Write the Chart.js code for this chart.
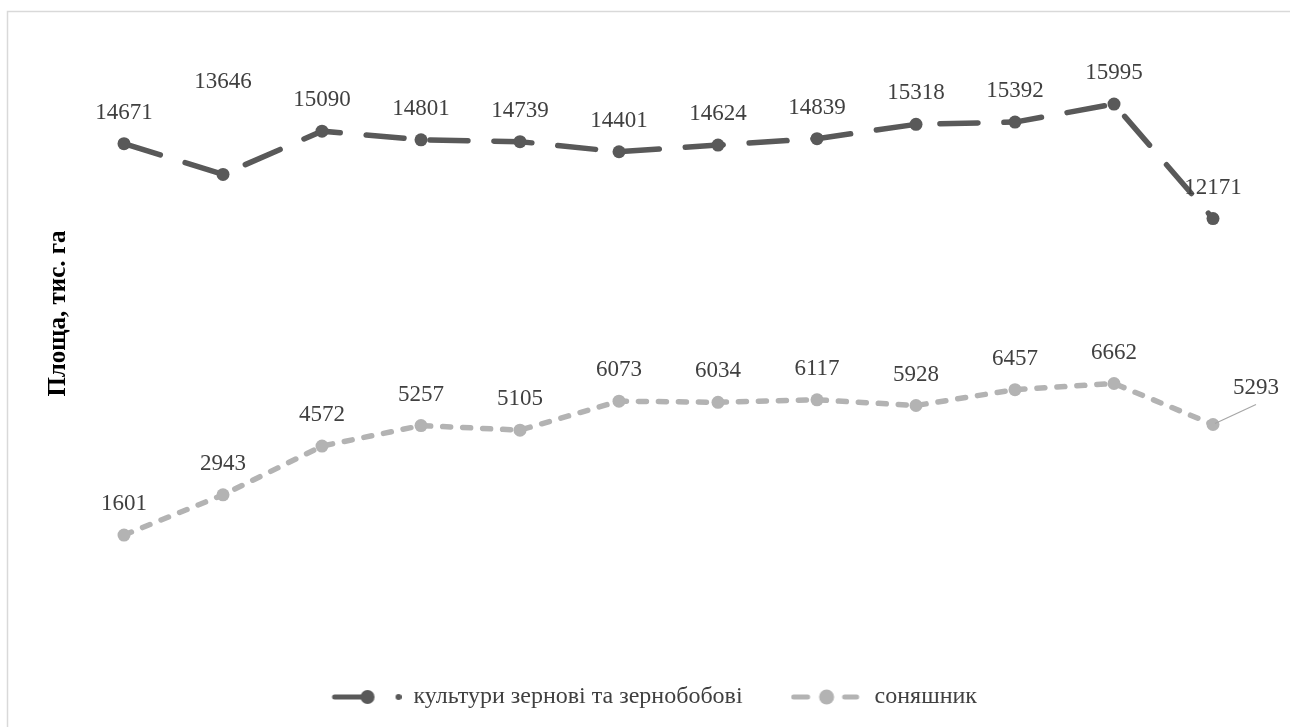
<!DOCTYPE html>
<html>
<head>
<meta charset="utf-8">
<script src="https://cdn.jsdelivr.net/npm/chart.js@4"></script>
<style>
  body { margin: 0; background: #fff; }
  #wrap { width: 1290px; height: 727px; }
</style>
</head>
<body>
<div id="wrap"><canvas id="areaChart"></canvas></div>
<script>
// Посівні площі, тис. га
const categories = ['1', '2', '3', '4', '5', '6', '7', '8', '9', '10', '11', '12'];
const grainValues = [14671, 13646, 15090, 14801, 14739, 14401, 14624, 14839, 15318, 15392, 15995, 12171];
const sunflowerValues = [1601, 2943, 4572, 5257, 5105, 6073, 6034, 6117, 5928, 6457, 6662, 5293];
const seriesNames = ['культури зернові та зернобобові', 'соняшник'];

const darkGrey = '#595959';
const lightGrey = '#b3b3b3';
const serif = "'Liberation Serif', 'Times New Roman', serif";

// legend symbols (line + marker) drawn on small canvases
function legendIcon(kind) {
  const c = document.createElement('canvas');
  c.width = 72;
  c.height = 20;
  const g = c.getContext('2d');
  g.lineCap = 'round';
  g.lineWidth = 5;
  if (kind === 'dark') {
    g.strokeStyle = g.fillStyle = darkGrey;
    g.beginPath(); g.moveTo(5, 10); g.lineTo(36, 10); g.stroke();
    g.beginPath(); g.arc(38, 10, 7, 0, Math.PI * 2); g.fill();
    g.beginPath(); g.arc(69, 10, 3, 0, Math.PI * 2); g.fill();
  } else {
    g.strokeStyle = g.fillStyle = lightGrey;
    g.beginPath(); g.moveTo(3, 10); g.lineTo(17, 10); g.stroke();
    g.beginPath(); g.arc(36, 10, 7.5, 0, Math.PI * 2); g.fill();
    g.beginPath(); g.moveTo(54, 10); g.lineTo(66, 10); g.stroke();
  }
  return c;
}
const icons = [legendIcon('dark'), legendIcon('light')];

// value labels above points, with a couple of moved ones
const valueLabels = {
  id: 'valueLabels',
  afterDatasetsDraw(chart) {
    const ctx = chart.ctx;
    const moved = { '0-1': [0, -92], '1-11': [43, -37] };
    ctx.save();
    ctx.font = '23px ' + serif;
    ctx.fillStyle = '#404040';
    ctx.textAlign = 'center';
    ctx.textBaseline = 'middle';
    chart.data.datasets.forEach((ds, di) => {
      chart.getDatasetMeta(di).data.forEach((pt, i) => {
        const shift = moved[di + '-' + i] || [0, -31];
        const x = pt.x + shift[0];
        const y = pt.y + shift[1];
        if (di === 1 && i === 11) {
          ctx.strokeStyle = '#a6a6a6';
          ctx.lineWidth = 1.2;
          ctx.beginPath();
          ctx.moveTo(pt.x + 2, pt.y - 1);
          ctx.lineTo(pt.x + 43, pt.y - 20);
          ctx.stroke();
        }
        ctx.fillText(String(ds.data[i]), x, y);
      });
    });
    ctx.restore();
  }
};

// light frame round the chart
const frame = {
  id: 'frame',
  beforeDraw(chart) {
    const ctx = chart.ctx;
    ctx.save();
    ctx.fillStyle = '#fff';
    ctx.fillRect(0, 0, chart.width, chart.height);
    ctx.strokeStyle = '#d9d9d9';
    ctx.lineWidth = 1.5;
    ctx.strokeRect(7.5, 11.5, chart.width + 20, chart.height + 20);
    ctx.restore();
  }
};

const ctx = document.getElementById('areaChart').getContext('2d');
const areaChart = new Chart(ctx, {
  type: 'line',
  data: {
    labels: categories,
    datasets: [
      {
        label: seriesNames[0],
        data: grainValues,
        borderColor: darkGrey,
        backgroundColor: darkGrey,
        borderWidth: 5.5,
        borderDash: [38, 26],
        borderCapStyle: 'round',
        pointRadius: 6.5,
        pointBorderWidth: 0,
        pointBackgroundColor: darkGrey,
        tension: 0,
      },
      {
        label: seriesNames[1],
        data: sunflowerValues,
        borderColor: lightGrey,
        backgroundColor: lightGrey,
        borderWidth: 5.5,
        borderDash: [8, 12],
        borderCapStyle: 'round',
        pointRadius: 6.5,
        pointBorderWidth: 0,
        pointBackgroundColor: lightGrey,
        tension: 0,
      },
    ],
  },
  options: {
    responsive: true,
    maintainAspectRatio: false,
    animation: false,
    layout: { padding: { left: 44, right: 27.5, top: 44, bottom: 8 } },
    scales: {
      x: {
        offset: true,
        grid: { display: false },
        border: { display: false },
        ticks: { display: false },
        afterFit(axis) { axis.height = 54; },
      },
      y: {
        min: 0,
        max: 18000,
        grid: { display: false },
        border: { display: false },
        ticks: { display: false },
        title: {
          display: true,
          text: 'Площа, тис. га',
          color: '#000',
          font: { family: serif, size: 25, weight: 'bold' },
          padding: 0,
        },
        afterFit(axis) { axis.width = 30.5; },
      },
    },
    plugins: {
      tooltip: { enabled: false },
      legend: {
        position: 'bottom',
        labels: {
          usePointStyle: true,
          pointStyleWidth: 72,
          padding: 48,
          color: '#404040',
          font: { family: serif, size: 24 },
          generateLabels(chart) {
            const items = Chart.defaults.plugins.legend.labels.generateLabels(chart);
            items.forEach((item, i) => { item.pointStyle = icons[i]; });
            return items;
          },
        },
      },
    },
  },
  plugins: [frame, valueLabels],
});
</script>
</body>
</html>
